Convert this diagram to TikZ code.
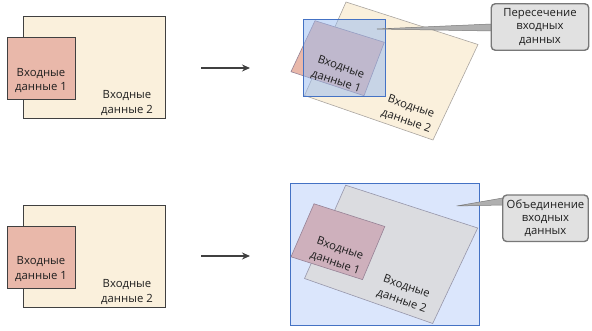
\documentclass[tikz,border=0pt]{standalone}
\usepackage{fontspec}
\setmainfont{Open Sans}
\usetikzlibrary{arrows.meta}
\definecolor{yel}{RGB}{250,240,220}
\definecolor{pnk}{RGB}{233,184,170}
\definecolor{dk}{RGB}{64,64,64}
\definecolor{ybord}{RGB}{170,165,160}
\definecolor{bluebord}{RGB}{68,114,196}
\definecolor{blueov}{RGB}{150,185,240}
\definecolor{bluebg}{RGB}{219,230,252}
\definecolor{grayrect}{RGB}{219,220,224}
\definecolor{graybord}{RGB}{150,150,170}
\definecolor{mauve}{RGB}{206,176,188}
\definecolor{mauvebord}{RGB}{150,130,150}
\definecolor{callfill}{RGB}{225,225,225}
\definecolor{callbord}{RGB}{120,120,120}
\definecolor{ptrfill}{RGB}{175,175,175}
\definecolor{txt}{RGB}{30,30,30}
\tikzset{
  flatbox/.style={draw=dk, line width=0.9pt},
  tiltbox/.style={line width=0.6pt},
  lbl/.style={align=center, text=txt, font=\fontsize{11.3}{14.2}\selectfont, inner sep=0pt},
  tlbl/.style={lbl, rotate=-19, font=\fontsize{11.3}{15}\selectfont},
  callout/.style={draw=callbord, fill=callfill, line width=1.4pt, rounded corners=4pt,
    align=center, text=txt, font=\fontsize{11.3}{13.4}\selectfont, inner sep=0pt},
  pointer/.style={fill=ptrfill, draw=callbord, line width=0.5pt},
  flow/.style={draw=dk, line width=1.6pt, -{Stealth[length=8pt,width=7pt]}}
}
\begin{document}
\begin{tikzpicture}[x=1pt,y=-1pt]
\useasboundingbox (0,0) rectangle (592,331);
% ---------- top left ----------
\draw[flatbox, fill=yel] (23,16) rectangle (165,118);
\draw[flatbox, fill=pnk] (7,37) rectangle (75.5,99);
\node[lbl] (t1) at (41,80.5) {Входные\\данные 1};
\node[lbl] (t2) at (127,103) {Входные\\данные 2};
% ---------- bottom left ----------
\draw[flatbox, fill=yel] (23,205) rectangle (165,307);
\draw[flatbox, fill=pnk] (7,226.5) rectangle (75.5,288);
\node[lbl] (b1) at (41,269) {Входные\\данные 1};
\node[lbl] (b2) at (127,292) {Входные\\данные 2};
% ---------- arrows ----------
\coordinate (a1s) at (201,68);
\coordinate (a1e) at (250,68);
\coordinate (a2s) at (201,256);
\coordinate (a2e) at (250,256);
\draw[flow] (a1s) -- (a1e);
\draw[flow] (a2s) -- (a2e);
% ---------- top right (intersection) ----------
\draw[tiltbox, draw=ybord, fill=yel] (346,2) -- (478,44.5) -- (433,140) -- (304.5,95.5) -- cycle;
\draw[tiltbox, draw=mauvebord, fill=pnk] (315,20.7) -- (384.3,42.3) -- (364,95.7) -- (291,71.7) -- cycle;
\draw[draw=bluebord, line width=1pt, fill=blueov, fill opacity=0.5] (303.3,19.3) rectangle (385.5,96.7);
\node[tlbl] (r1) at (338.5,74.5) {Входные\\данные 1};
\node[tlbl] (r2) at (408.5,114) {Входные\\данные 2};
\coordinate (c1) at (540,27);
\coordinate (p1) at (377,29);
\draw[pointer] (p1) -- (491.2,24) -- (493.2,24) -- (493.2,31) -- (491.2,31) -- cycle;
\node[callout, minimum width=97.5pt, minimum height=46.5pt] (c1b) at (c1) {Пересечение\\входных\\данных};
% ---------- bottom right (union) ----------
\draw[draw=bluebord, line width=1pt, fill=bluebg] (290,183.3) rectangle (479.3,325);
\draw[tiltbox, draw=graybord, fill=grayrect] (345.7,185.2) -- (477.7,228) -- (432.7,323.5) -- (304.5,278.5) -- cycle;
\draw[tiltbox, draw=mauvebord, fill=mauve] (314,203.8) -- (384.8,226.5) -- (362.5,279.6) -- (291,256.8) -- cycle;
\node[tlbl] (u1) at (337.5,256) {Входные\\данные 1};
\node[tlbl] (u2) at (404,294) {Входные\\данные 2};
\coordinate (c2) at (545.5,218.3);
\coordinate (p2) at (456.7,206);
\draw[pointer] (p2) -- (502.7,198) -- (504.7,198) -- (504.7,205) -- (502.7,205) -- cycle;
\node[callout, minimum width=85.5pt, minimum height=46.5pt] (c2b) at (c2) {Объединение\\входных\\данных};
\end{tikzpicture}
\end{document}
